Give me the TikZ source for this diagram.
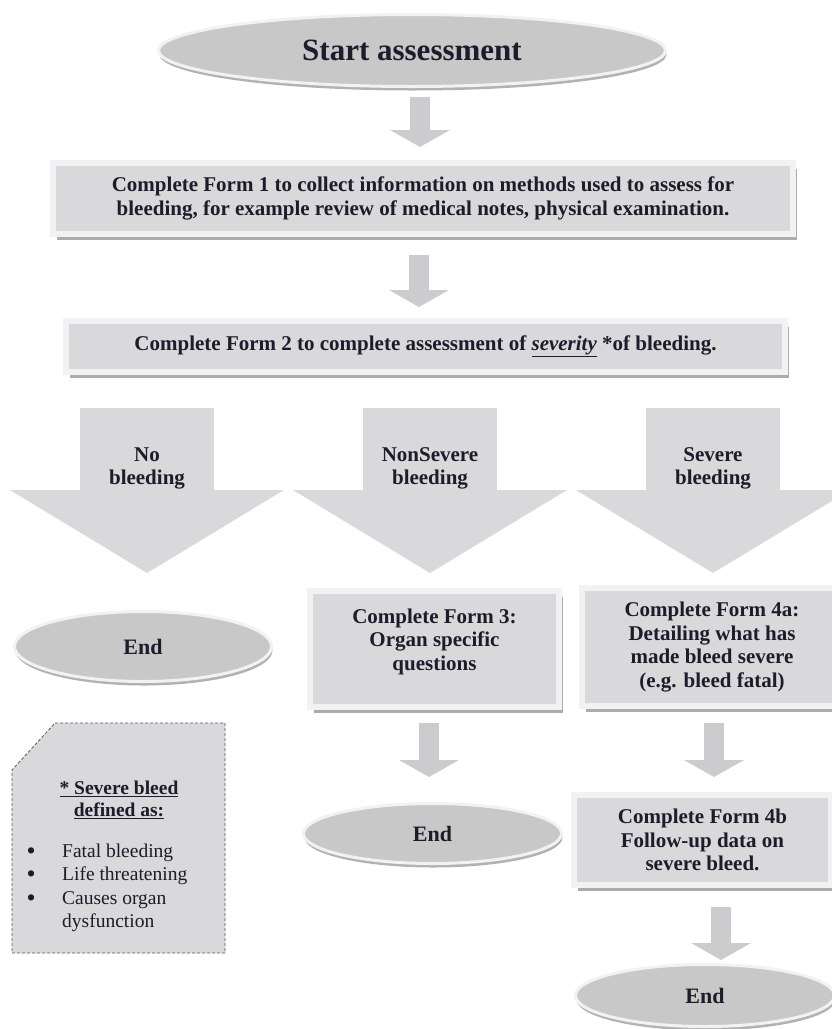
\documentclass[tikz,border=0pt]{standalone}
\usepackage{fontspec}
\setmainfont{Liberation Serif}
\usepackage{tikz}
\usetikzlibrary{shapes,arrows.meta,positioning,calc,shadows}

\definecolor{inkblue}{RGB}{28,28,42}
\definecolor{boxgrey}{RGB}{217,217,219}
\definecolor{rimgrey}{RGB}{242,242,242}
\definecolor{flowgrey}{RGB}{204,204,206}

\newcommand{\notebullet}{\raisebox{-1pt}{\fontsize{23}{23.5}\selectfont\textbf{\textbullet}}}

\begin{document}
\begin{tikzpicture}[x=1pt, y=-1pt, text=inkblue, font=\bfseries\fontsize{21}{23.5}\selectfont]
\tikzstyle{formbox}=[rectangle, fill=boxgrey, draw=rimgrey, line width=6pt, align=center, inner sep=0pt, drop shadow={shadow xshift=4pt, shadow yshift=-6pt, fill=gray!65, opacity=1}]
\tikzstyle{endnode}=[ellipse, fill=boxgrey!92!black, draw=rimgrey, line width=3pt, inner sep=0pt, font=\bfseries\fontsize{22}{26}\selectfont, drop shadow={shadow xshift=1pt, shadow yshift=-4pt, fill=gray!60, opacity=1}]
\tikzstyle{flow}=[draw=flowgrey, line width=20pt, -{Triangle[width=60pt, length=17pt, line width=0pt]}]
\tikzstyle{bigflow}=[draw=boxgrey, line width=134pt, -{Triangle[width=274pt, length=83pt, line width=0pt]}]
\tikzstyle{bigtext}=[align=center, inner sep=0pt]
\tikzstyle{notebox}=[fill=boxgrey, draw=gray!70!black, densely dashed, line width=0.8pt]
\useasboundingbox (0,0) rectangle (832,1029);

% main column
\node[endnode, minimum width=507pt, minimum height=72pt, font=\bfseries\fontsize{31}{36}\selectfont] (start) at (412,50.5) {Start assessment};
\node[formbox, minimum width=740pt, minimum height=71pt] (form1) at (423,198.5)
  {Complete Form 1 to collect information on methods used to assess for\\
   bleeding, for example review of medical notes, physical examination.};
\node[formbox, minimum width=719pt, minimum height=51pt] (form2) at (425.5,346.5)
  {Complete Form 2 to complete assessment of \underline{\textit{severity}} *of bleeding.};

% outcomes
\node[endnode, minimum width=257pt, minimum height=70pt] (endA) at (143,646.5) {End};
\node[formbox, minimum width=249pt, minimum height=116pt] (form3) at (434.5,649)
  {Complete Form 3:\\Organ specific\\questions\\[-4pt]~};
\node[formbox, minimum width=260pt, minimum height=118pt] (form4a) at (712,647)
  {Complete Form 4a:\\Detailing what has\\made bleed severe\\(e.g. bleed fatal)};
\node[endnode, minimum width=258pt, minimum height=60pt] (endB) at (432.5,833.5) {End};
\node[formbox, minimum width=257pt, minimum height=90pt] (form4b) at (702.5,840)
  {Complete Form 4b\\Follow-up data on\\severe bleed.};
\node[endnode, minimum width=259pt, minimum height=62pt] (endC) at (705,995.5) {End};

% big branch arrows
\coordinate (nolane) at (147,0);
\coordinate (nonlane) at (430,0);
\coordinate (sevlane) at (713,0);
\path
(form2.south -| nolane) edge[bigflow, shorten <=33pt, shorten >=37pt] (nolane |- endA.north)
(form2.south -| nonlane) edge[bigflow, shorten <=33pt, shorten >=15pt] (nonlane |- form3.north)
(form2.south -| sevlane) edge[bigflow, shorten <=33pt, shorten >=12pt] (sevlane |- form4a.north);
\node[bigtext] (nolbl) at (147,468.5) {No\\bleeding};
\node[bigtext] (nonlbl) at (430,468.5) {NonSevere\\bleeding};
\node[bigtext] (sevlbl) at (713,468.5) {Severe\\bleeding};

% small arrows
\draw[flow, shorten <=9pt, shorten >=13pt] ([xshift=8pt]start.south) -- ([xshift=-3pt]form1.north);
\draw[flow, shorten <=18pt, shorten >=11pt] ([xshift=-4pt]form1.south) -- ([xshift=-6.5pt]form2.north);
\draw[flow, shorten <=13pt, shorten >=25pt] ([xshift=-5.5pt]form3.south) -- ([xshift=-3.5pt]endB.north);
\draw[flow, shorten <=14pt, shorten >=15pt] ([xshift=2pt]form4a.south) -- ([xshift=11.5pt]form4b.north);
\draw[flow, shorten <=19pt, shorten >=3pt] ([xshift=18.5pt]form4b.south) -- ([xshift=16pt]endC.north);

% definition note
\draw[notebox] (55,723) -- (225,723) -- (225,953) -- (12,953) -- (12,770) -- cycle;
\node[align=center, inner sep=0pt, font=\bfseries\fontsize{19.5}{22}\selectfont] (notehead) at (119,799.5)
  {\underline{* Severe bleed}\\\underline{defined as:}};
\node[anchor=base west, inner sep=0pt, font=\fontsize{19.5}{23.5}\selectfont] (notelist) at (27,857)
  {\begin{tabular}[t]{@{}p{35pt}@{}l@{}}
   \notebullet & Fatal bleeding\\
   \notebullet & Life threatening\\
   \notebullet & Causes organ\\
               & dysfunction
   \end{tabular}};

\end{tikzpicture}
\end{document}
